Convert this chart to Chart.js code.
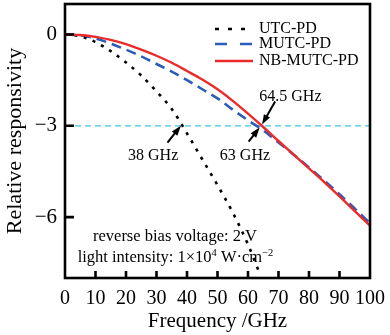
<!DOCTYPE html>
<html>
<head>
<meta charset="utf-8">
<script src="https://cdn.jsdelivr.net/npm/chart.js@4.4.0/dist/chart.umd.min.js"></script>
<style>
  html, body { margin: 0; padding: 0; background: #fff; }
  #box { position: relative; width: 390px; height: 335px; }
</style>
</head>
<body>
<div id="box"><canvas id="resp-chart"></canvas></div>
<script>
var freqs = [0, 5, 10, 15, 20, 25, 30, 35, 40, 45, 50, 55, 60, 65, 70, 75, 80, 85, 90, 95, 100];
var nbMutcPd = [0, -0.02, -0.08, -0.18, -0.32, -0.5, -0.7, -0.93, -1.2, -1.48, -1.8, -2.18, -2.6, -3.04, -3.5, -3.95, -4.4, -4.85, -5.32, -5.8, -6.28];
var mutcPd = [0, -0.03, -0.13, -0.3, -0.5, -0.72, -0.97, -1.22, -1.5, -1.8, -2.1, -2.47, -2.82, -3.15, -3.55, -3.95, -4.37, -4.8, -5.25, -5.72, -6.2];
var utcFreqs = [0, 5, 10, 15, 20, 25, 30, 35, 40, 45, 50, 55, 60, 64];
var utcPd = [0, -0.06, -0.25, -0.55, -0.92, -1.35, -1.87, -2.45, -3.25, -4.1, -4.95, -5.85, -6.9, -7.9];
var yTicks = [0, -3, -6];
var xTicks = [10, 20, 30, 40, 50, 60, 70, 80, 90];
var seriesNames = ["UTC-PD", "MUTC-PD", "NB-MUTC-PD"];

var SERIF = "'Liberation Serif', 'Times New Roman', serif";

function pts(xs, ys) {
  return ys.map(function (v, i) { return { x: xs[i], y: v }; });
}

function arrow(ctx, x1, y1, x2, y2) {
  var a = Math.atan2(y2 - y1, x2 - x1);
  var L = 10, W = 3.5;
  ctx.beginPath();
  ctx.moveTo(x1, y1);
  ctx.lineTo(x2 - L * 0.6 * Math.cos(a), y2 - L * 0.6 * Math.sin(a));
  ctx.stroke();
  ctx.beginPath();
  ctx.moveTo(x2, y2);
  ctx.lineTo(x2 - L * Math.cos(a) - W * Math.sin(a), y2 - L * Math.sin(a) + W * Math.cos(a));
  ctx.lineTo(x2 - L * Math.cos(a) + W * Math.sin(a), y2 - L * Math.sin(a) - W * Math.cos(a));
  ctx.closePath();
  ctx.fill();
}

var decorPlugin = {
  id: "decor",
  afterDraw: function (chart) {
    var ctx = chart.ctx, a = chart.chartArea;
    var xs = chart.scales.x, ys = chart.scales.y;
    ctx.save();
    ctx.strokeStyle = "#000";
    ctx.fillStyle = "#000";

    // frame + inward ticks
    ctx.lineWidth = 2.6;
    ctx.strokeRect(a.left, a.top, a.right - a.left, a.bottom - a.top);
    ctx.beginPath();
    xTicks.forEach(function (t) {
      var px = xs.getPixelForValue(t);
      ctx.moveTo(px, a.bottom);
      ctx.lineTo(px, a.bottom - 7);
    });
    yTicks.forEach(function (t) {
      var py = ys.getPixelForValue(t);
      ctx.moveTo(a.left, py);
      ctx.lineTo(a.left + 9, py);
    });
    ctx.stroke();

    // legend
    var rows = [29, 44, 61];
    ctx.font = "16px " + SERIF;
    ctx.textBaseline = "middle";
    ctx.textAlign = "left";
    for (var i = 0; i < 3; i++) {
      var ds = chart.data.datasets[i];
      ctx.save();
      ctx.strokeStyle = ds.borderColor;
      ctx.lineWidth = ds.borderWidth;
      ctx.setLineDash(ds.legendDash || []);
      ctx.beginPath();
      ctx.moveTo(215, rows[i]);
      ctx.lineTo(253, rows[i]);
      ctx.stroke();
      ctx.restore();
      ctx.fillText(seriesNames[i], 259, rows[i]);
    }

    // arrows
    ctx.lineWidth = 2;
    function P(f, v) { return [xs.getPixelForValue(f), ys.getPixelForValue(v)]; }
    var t1 = P(33.6, -3.55), h1 = P(38, -3);
    arrow(ctx, t1[0], t1[1], h1[0], h1[1]);
    var t2 = P(68.9, -2.2), h2 = P(64.6, -2.96);
    arrow(ctx, t2[0], t2[1], h2[0], h2[1]);
    var t3 = P(60.2, -3.52), h3 = P(63.8, -3.06);
    arrow(ctx, t3[0], t3[1], h3[0], h3[1]);

    // labels
    ctx.textAlign = "center";
    ctx.font = "16px " + SERIF;
    var p = P(28.9, -4.0);
    ctx.fillText("38 GHz", p[0], p[1]);
    p = P(59, -4.0);
    ctx.fillText("63 GHz", p[0], p[1]);
    p = P(73.9, -2.05);
    ctx.fillText("64.5 GHz", p[0], p[1]);

    ctx.font = "16.5px " + SERIF;
    ctx.fillText("reverse bias voltage: 2 V", 175, 237);

    // light intensity line with superscripts
    var parts = [
      ["light intensity: 1\u00d710", false],
      ["4", true],
      [" W\u00b7cm", false],
      ["\u22122", true]
    ];
    var big = "16.5px " + SERIF, small = "10.5px " + SERIF;
    var total = 0;
    parts.forEach(function (q) {
      ctx.font = q[1] ? small : big;
      total += ctx.measureText(q[0]).width;
    });
    var x = 175.5 - total / 2;
    ctx.textAlign = "left";
    parts.forEach(function (q) {
      ctx.font = q[1] ? small : big;
      ctx.fillText(q[0], x, q[1] ? 253 : 258);
      x += ctx.measureText(q[0]).width;
    });
    ctx.restore();
  }
};

var config = {
  type: "line",
  data: {
    datasets: [
      {
        label: seriesNames[0],
        data: pts(utcFreqs, utcPd),
        borderColor: "#000000",
        borderWidth: 2.6,
        borderDash: [3, 6.5],
        legendDash: [4, 9],
        pointRadius: 0,
        cubicInterpolationMode: "monotone",
        order: 1,
      },
      {
        label: seriesNames[1],
        data: pts(freqs, mutcPd),
        borderColor: "#2c5cb8",
        borderWidth: 2.6,
        borderDash: [10, 6],
        legendDash: [12, 13],
        pointRadius: 0,
        cubicInterpolationMode: "monotone",
        order: 2,
      },
      {
        label: seriesNames[2],
        data: pts(freqs, nbMutcPd),
        borderColor: "#ec2a2c",
        borderWidth: 2.4,
        pointRadius: 0,
        cubicInterpolationMode: "monotone",
        order: 0,
      },
      {
        label: "-3 dB",
        data: [{ x: 0, y: -3 }, { x: 100, y: -3 }],
        borderColor: "#3fc6e0",
        borderWidth: 1.3,
        borderDash: [6, 4],
        pointRadius: 0,
        order: 10,
      },
    ],
  },
  options: {
    responsive: true,
    maintainAspectRatio: false,
    animation: false,
    layout: { padding: { top: 4, right: 20, left: 0, bottom: 0 } },
    plugins: {
      legend: { display: false },
      tooltip: { enabled: false },
    },
    scales: {
      x: {
        type: "linear",
        min: 0,
        max: 100,
        grid: { display: false, drawTicks: false },
        border: { display: false },
        ticks: {
          stepSize: 10,
          padding: 9,
          autoSkip: false,
          maxRotation: 0,
          color: "#000",
          font: { family: SERIF, size: 20 },
        },
        title: {
          display: true,
          text: "Frequency /GHz",
          color: "#000",
          padding: { top: 0, bottom: 1 },
          font: { family: SERIF, size: 21 },
        },
        afterFit: function (s) {
          s.height = 57;
          s.paddingLeft = 0;
          s.paddingRight = 0;
        },
      },
      y: {
        min: -8,
        max: 1,
        grid: { display: false, drawTicks: false },
        border: { display: false },
        afterBuildTicks: function (s) {
          s.ticks = yTicks.map(function (v) { return { value: v }; });
        },
        ticks: {
          padding: 8,
          color: "#000",
          font: { family: SERIF, size: 21 },
          callback: function (v) { return v < 0 ? "\u2212" + Math.abs(v) : String(v); },
        },
        title: {
          display: true,
          text: "Relative responsivity",
          color: "#000",
          padding: { top: 2, bottom: 0 },
          font: { family: SERIF, size: 22 },
        },
        afterFit: function (s) {
          s.width = 65;
          s.paddingTop = 0;
          s.paddingBottom = 0;
        },
      },
    },
  },
  plugins: [decorPlugin],
};

var ctx = document.getElementById("resp-chart").getContext("2d");
window.myLine = new Chart(ctx, config);
</script>
</body>
</html>
